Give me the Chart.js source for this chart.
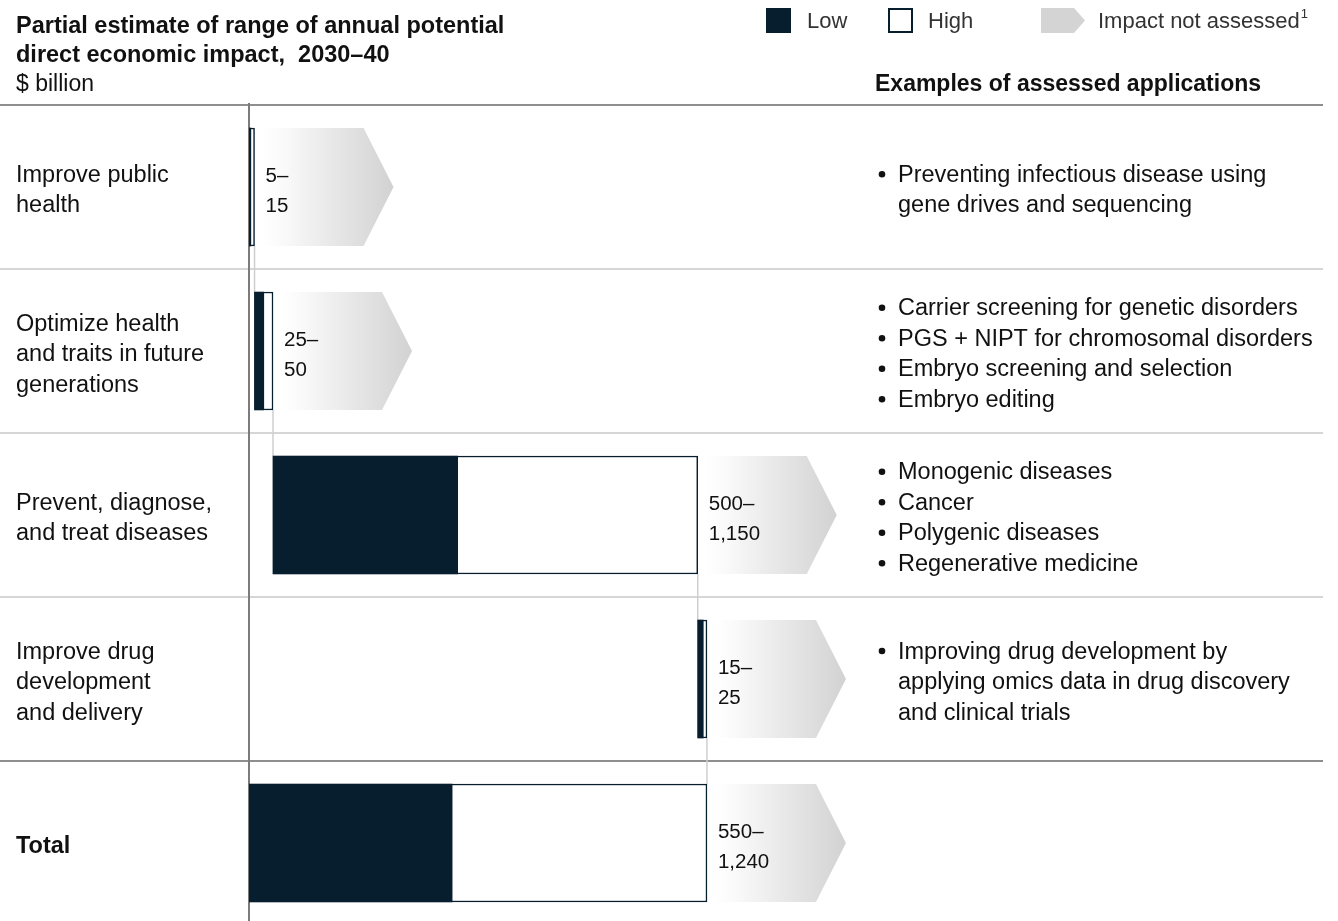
<!DOCTYPE html>
<html>
<head>
<meta charset="utf-8">
<script src="https://cdn.jsdelivr.net/npm/chart.js@4.4.1/dist/chart.umd.min.js"></script>
<style>
  html, body { margin: 0; padding: 0; background: #ffffff; }
  #wrap { position: relative; width: 1338px; height: 921px; }
  canvas { display: block; }
</style>
</head>
<body>
<div id="wrap"><canvas id="c" width="1338" height="921"></canvas></div>
<script>
// ---------------- DATA ----------------
const categories = [
  ['Improve public', 'health'],
  ['Optimize health', 'and traits in future', 'generations'],
  ['Prevent, diagnose,', 'and treat diseases'],
  ['Improve drug', 'development', 'and delivery'],
  ['Total']
];
const lowValues  = [5, 25, 500, 15, 550];
const highValues = [15, 50, 1150, 25, 1240];
// waterfall start of each bar (cumulative of the previous highs; total starts at 0)
const startValues = [0, 15, 65, 1215, 0];
const rangeLabels = [
  ['5–', '15'],
  ['25–', '50'],
  ['500–', '1,150'],
  ['15–', '25'],
  ['550–', '1,240']
];
const examples = [
  [['Preventing infectious disease using', 'gene drives and sequencing']],
  [['Carrier screening for genetic disorders'], ['PGS + NIPT for chromosomal disorders'], ['Embryo screening and selection'], ['Embryo editing']],
  [['Monogenic diseases'], ['Cancer'], ['Polygenic diseases'], ['Regenerative medicine']],
  [['Improving drug development by', 'applying omics data in drug discovery', 'and clinical trials']],
  []
];
const titleLines = ['Partial estimate of range of annual potential', 'direct economic impact,  2030–40'];
const unitLabel = '$ billion';
const examplesHeader = 'Examples of assessed applications';
const legendLabels = ['Low', 'High', 'Impact not assessed'];

// ---------------- STYLE ----------------
const NAVY = '#071e2e';
const FONT = '"Liberation Sans", Arial, Helvetica, sans-serif';
const TEXT = '#111111';

const lowData  = lowValues.map((v, i) => ({ y: i, x: [startValues[i], startValues[i] + v] }));
const highData = highValues.map((v, i) => ({ y: i, x: [startValues[i], startValues[i] + v] }));

const decor = {
  id: 'decor',
  beforeDatasetsDraw(chart) {
    const ctx = chart.ctx;
    const xs = chart.scales.x, ys = chart.scales.y;
    const ca = chart.chartArea;
    const half = 59;
    ctx.save();
    // row separators
    for (let i = 0; i < categories.length; i++) {
      const yb = Math.round(ys.getPixelForValue(i - 0.5));
      ctx.strokeStyle = (i === 0 || i === categories.length - 1) ? '#8e8e8e' : '#d6d6d6';
      ctx.lineWidth = 2;
      ctx.beginPath(); ctx.moveTo(0, yb); ctx.lineTo(1323, yb); ctx.stroke();
    }
    // zero axis
    const x0 = xs.getPixelForValue(0);
    ctx.strokeStyle = '#7c7c7c';
    ctx.lineWidth = 2;
    ctx.beginPath(); ctx.moveTo(x0, ca.top - 2); ctx.lineTo(x0, 921); ctx.stroke();
    // connectors
    ctx.strokeStyle = '#cfcfcf';
    ctx.lineWidth = 1.5;
    for (let i = 0; i < categories.length - 1; i++) {
      const xe = xs.getPixelForValue(startValues[i] + highValues[i]);
      const y1 = ys.getPixelForValue(i) + half;
      const y2 = ys.getPixelForValue(i + 1) - half;
      ctx.beginPath(); ctx.moveTo(xe, y1); ctx.lineTo(xe, y2); ctx.stroke();
    }
    // "impact not assessed" arrows
    for (let i = 0; i < categories.length; i++) {
      const xe = xs.getPixelForValue(startValues[i] + highValues[i]);
      const yc = ys.getPixelForValue(i);
      const g = ctx.createLinearGradient(xe + 8, 0, xe + 139, 0);
      g.addColorStop(0, 'rgba(255,255,255,1)');
      g.addColorStop(0.15, 'rgba(250,250,250,1)');
      g.addColorStop(1, '#d2d2d2');
      ctx.fillStyle = g;
      ctx.beginPath();
      ctx.moveTo(xe + 2, yc - half);
      ctx.lineTo(xe + 109, yc - half);
      ctx.lineTo(xe + 139, yc);
      ctx.lineTo(xe + 109, yc + half);
      ctx.lineTo(xe + 2, yc + half);
      ctx.closePath();
      ctx.fill();
    }
    ctx.restore();
  },
  afterDatasetsDraw(chart) {
    const ctx = chart.ctx;
    const xs = chart.scales.x, ys = chart.scales.y;
    ctx.save();
    ctx.textBaseline = 'alphabetic';
    ctx.fillStyle = TEXT;
    // range labels
    ctx.font = '20.5px ' + FONT;
    for (let i = 0; i < categories.length; i++) {
      const xe = xs.getPixelForValue(startValues[i] + highValues[i]);
      const yc = ys.getPixelForValue(i);
      ctx.fillText(rangeLabels[i][0], xe + 11, yc - 5);
      ctx.fillText(rangeLabels[i][1], xe + 11, yc + 25);
    }
    // category labels
    for (let i = 0; i < categories.length; i++) {
      const yc = ys.getPixelForValue(i);
      const lines = categories[i];
      ctx.font = (i === categories.length - 1 ? 'bold ' : '') + '23.5px ' + FONT;
      const y0 = yc - (lines.length - 1) * 15.25 + 10;
      lines.forEach((t, k) => ctx.fillText(t, 16, y0 + k * 30.5));
    }
    // examples
    ctx.font = '23.5px ' + FONT;
    for (let i = 0; i < examples.length; i++) {
      const yc = ys.getPixelForValue(i);
      const items = examples[i];
      const n = items.reduce((s, it) => s + it.length, 0);
      if (!n) continue;
      let y = yc - (n - 1) * 15.25 + 10;
      items.forEach(it => {
        ctx.beginPath(); ctx.arc(882, y - 7.5, 3.3, 0, Math.PI * 2); ctx.fill();
        it.forEach(t => { ctx.fillText(t, 898, y); y += 30.5; });
      });
    }
    // title
    ctx.font = 'bold 23.5px ' + FONT;
    ctx.fillText(titleLines[0], 16, 33);
    ctx.fillText(titleLines[1], 16, 62);
    ctx.font = '23px ' + FONT;
    ctx.fillText(unitLabel, 16, 91);
    ctx.font = 'bold 23px ' + FONT;
    ctx.fillText(examplesHeader, 875, 91);
    // legend
    ctx.fillStyle = NAVY;
    ctx.fillRect(766, 8, 25, 25);
    ctx.strokeStyle = NAVY; ctx.lineWidth = 2;
    ctx.strokeRect(889, 9, 23, 23);
    ctx.fillStyle = '#d4d4d4';
    ctx.beginPath();
    ctx.moveTo(1041, 8); ctx.lineTo(1074, 8); ctx.lineTo(1085, 20.5);
    ctx.lineTo(1074, 33); ctx.lineTo(1041, 33); ctx.closePath(); ctx.fill();
    ctx.fillStyle = '#333333';
    ctx.font = '22px ' + FONT;
    ctx.fillText(legendLabels[0], 807, 28);
    ctx.fillText(legendLabels[1], 928, 28);
    ctx.fillText(legendLabels[2], 1098, 28);
    const w = ctx.measureText(legendLabels[2]).width;
    ctx.font = '13px ' + FONT;
    ctx.fillText('1', 1098 + w + 1, 18);
    ctx.restore();
  }
};

new Chart(document.getElementById('c'), {
  type: 'bar',
  data: {
    datasets: [
      { label: legendLabels[0], data: lowData, backgroundColor: NAVY, borderWidth: 0,
        grouped: false, barThickness: 118 },
      { label: legendLabels[1], data: highData, backgroundColor: '#ffffff', borderColor: NAVY,
        borderWidth: 1.5, borderSkipped: false, grouped: false, barThickness: 118 }
    ]
  },
  options: {
    indexAxis: 'y',
    responsive: false,
    animation: false,
    devicePixelRatio: 1,
    layout: { padding: { left: 249, right: 15, top: 105, bottom: 0 } },
    scales: {
      x: { type: 'linear', min: 0, max: 2908, display: false, offset: false },
      y: { type: 'linear', min: -0.5, max: 4.4756, reverse: true, display: false, offset: false }
    },
    plugins: { legend: { display: false }, tooltip: { enabled: false } }
  },
  plugins: [decor]
});
</script>
</body>
</html>
